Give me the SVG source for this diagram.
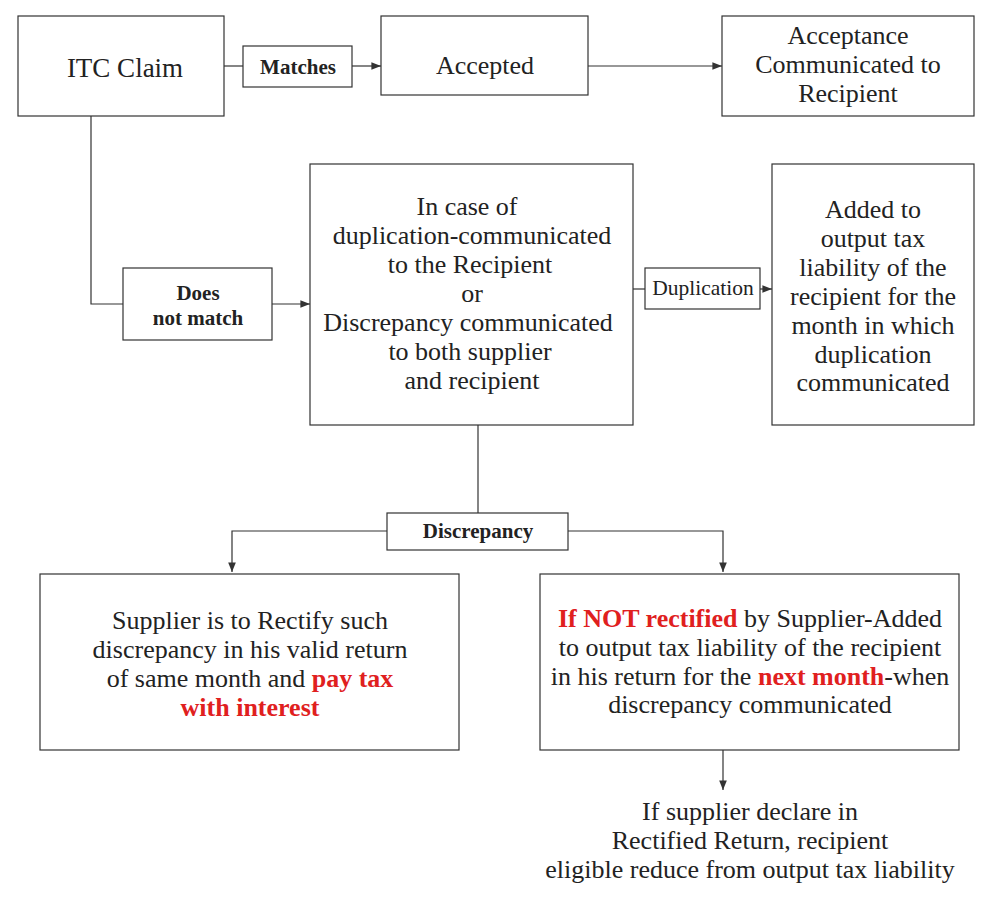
<svg xmlns="http://www.w3.org/2000/svg" width="1000" height="900" viewBox="0 0 1000 900">
<style>
rect{fill:#fff;stroke:#333;stroke-width:1.2}
text{font-family:"Liberation Serif",serif;font-size:26px;fill:#222;text-anchor:middle}
.b{font-weight:bold;font-size:21px}
.s{font-size:21.5px}
.r{fill:#e0201e;font-weight:bold}
.c{fill:none;stroke:#333;stroke-width:1.2}
</style>
<defs><marker id="a" viewBox="0 0 10 10" refX="10" refY="5" markerWidth="8" markerHeight="8" orient="auto"><path d="M0,1 L10,5 L0,9 z" fill="#333"/></marker></defs>
<rect width="1000" height="900" style="stroke:none"/>
<g id="connectors">
<path class="c" d="M224,66 H243"/>
<path class="c" d="M352,66 H381" marker-end="url(#a)"/>
<path class="c" d="M588,66 H722" marker-end="url(#a)"/>
<path class="c" d="M91,116 V304 H123"/>
<path class="c" d="M272,304 H310" marker-end="url(#a)"/>
<path class="c" d="M633,289 H645"/>
<path class="c" d="M760,289 H772" marker-end="url(#a)"/>
<path class="c" d="M478,425 V513"/>
<path class="c" d="M387,531 H232 V572" marker-end="url(#a)"/>
<path class="c" d="M568,531 H723 V572" marker-end="url(#a)"/>
<path class="c" d="M723,750 V790" marker-end="url(#a)"/>
</g>
<g id="itc"><rect x="18" y="16" width="206" height="100"/><text x="125" y="77" style="font-size:27px">ITC Claim</text></g>
<g id="matches"><rect x="243" y="46" width="109" height="41"/><text class="b" x="298" y="74">Matches</text></g>
<g id="accepted"><rect x="381" y="16" width="207" height="79"/><text x="485" y="74">Accepted</text></g>
<g id="acceptance"><rect x="722" y="16" width="252" height="100"/><text x="848" y="44">Acceptance</text><text x="848" y="73">Communicated to</text><text x="848" y="102">Recipient</text></g>
<g id="nomatch"><rect x="123" y="268" width="149" height="72"/><text class="b" x="198" y="300">Does</text><text class="b" x="198" y="325">not match</text></g>
<g id="middle"><rect x="310" y="164" width="323" height="261"/>
<text x="467" y="215">In case of</text><text x="472" y="244">duplication-communicated</text><text x="470" y="273">to the Recipient</text><text x="472" y="302">or</text><text x="468" y="331">Discrepancy communicated</text><text x="470" y="360">to both supplier</text><text x="472" y="389">and recipient</text></g>
<g id="duplication"><rect x="645" y="268" width="115" height="41"/><text class="s" x="703" y="295">Duplication</text></g>
<g id="added"><rect x="772" y="164" width="202" height="261"/>
<text x="873" y="218">Added to</text><text x="873" y="247">output tax</text><text x="873" y="276">liability of the</text><text x="873" y="305">recipient for the</text><text x="873" y="334">month in which</text><text x="873" y="363">duplication</text><text x="873" y="391">communicated</text></g>
<g id="discrepancy"><rect x="387" y="513" width="181" height="37"/><text class="b" x="478" y="538">Discrepancy</text></g>
<g id="supplier"><rect x="40" y="574" width="419" height="176"/>
<text x="250" y="629">Supplier is to Rectify such</text><text x="250" y="658">discrepancy in his valid return</text><text x="250" y="687">of same month and <tspan class="r">pay tax</tspan></text><text x="250" y="716" class="r">with interest</text></g>
<g id="notrectified"><rect x="540" y="574" width="419" height="176"/>
<text x="750" y="627"><tspan class="r">If NOT rectified</tspan> by Supplier-Added</text><text x="750" y="656">to output tax liability of the recipient</text><text x="750" y="685">in his return for the <tspan class="r">next month</tspan>-when</text><text x="750" y="713">discrepancy communicated</text></g>
<g id="declare"><text x="750" y="820">If supplier declare in</text><text x="750" y="849">Rectified Return, recipient</text><text x="750" y="878">eligible reduce from output tax liability</text></g>
</svg>
